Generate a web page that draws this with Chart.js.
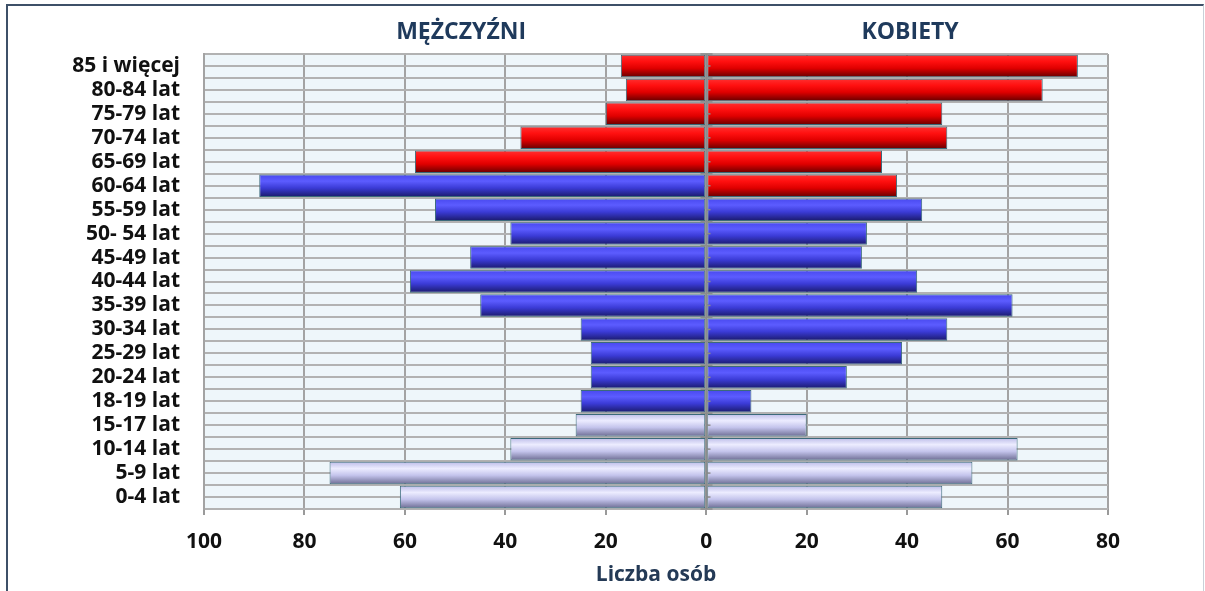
<!DOCTYPE html>
<html>
<head>
<meta charset="utf-8">
<script src="https://cdn.jsdelivr.net/npm/chart.js@4.4.1/dist/chart.umd.min.js"></script>
<style>
  html, body { margin: 0; padding: 0; background: #ffffff; }
  #wrap { position: relative; width: 1205px; height: 591px; overflow: hidden; }
  #frame { position: absolute; left: 6px; top: 4px; width: 1195px; height: 600px;
           border-top: 2px solid #3e5068; border-left: 2px solid #3e5068; border-right: 1px solid #c9d0d8; }
  #c { position: absolute; left: 0; top: 0; }
</style>
</head>
<body>
<div id="wrap">
  <div id="frame"></div>
  <canvas id="c" width="1205" height="591"></canvas>
</div>
<script>
// ---- data ----
const ageGroups = ["85 i więcej", "80-84 lat", "75-79 lat", "70-74 lat", "65-69 lat", "60-64 lat",
  "55-59 lat", "50- 54 lat", "45-49 lat", "40-44 lat", "35-39 lat", "30-34 lat", "25-29 lat",
  "20-24 lat", "18-19 lat", "15-17 lat", "10-14 lat", "5-9 lat", "0-4 lat"];
const men   = [17, 16, 20, 37, 58, 89, 54, 39, 47, 59, 45, 25, 23, 23, 25, 26, 39, 75, 61];
const women = [74, 67, 47, 48, 35, 38, 43, 32, 31, 42, 61, 48, 39, 28, 9, 20, 62, 53, 47];
const xTicks = [-100, -80, -60, -40, -20, 0, 20, 40, 60, 80];
const sideTitles = ["MĘŻCZYŹNI", "KOBIETY"];
const axisTitle = "Liczba osób";
// age group boundaries (indices into ageGroups)
const preWorkingFrom = 15;     // 15-17 lat and younger
const menRetiredUpTo = 4;      // 65-69 lat and older
const womenRetiredUpTo = 5;    // 60-64 lat and older

// ---- styles ----
const FONT = "'Open Sans', sans-serif";
const CAT_PCT = 0.94;
const palettes = {
  red:      [[0, '#ff3030'], [0.3, '#ff1010'], [0.6, '#e00000'], [1, '#640000']],
  blue:     [[0, '#4848ee'], [0.3, '#5c5cff'], [0.6, '#3b3bd6'], [1, '#1a1a6a']],
  lavender: [[0, '#bcbce8'], [0.3, '#ececff'], [0.6, '#c4c4ec'], [1, '#6c6c92']]
};
function groupOf(datasetIndex, i) {
  if (i >= preWorkingFrom) return 'lavender';
  const retiredUpTo = datasetIndex === 0 ? menRetiredUpTo : womenRetiredUpTo;
  return i <= retiredUpTo ? 'red' : 'blue';
}
function barFill(ctx) {
  const pal = palettes[groupOf(ctx.datasetIndex, ctx.dataIndex)];
  const y = ctx.chart.scales && ctx.chart.scales.y;
  if (!y || ctx.type !== 'data' || !isFinite(y.height) || y.height <= 0) return pal[2][1];
  const cy = y.getPixelForValue(ctx.dataIndex);
  const h = (y.height / ageGroups.length) * CAT_PCT;
  const g = ctx.chart.ctx.createLinearGradient(0, cy - h / 2, 0, cy + h / 2);
  pal.forEach(s => g.addColorStop(s[0], s[1]));
  return g;
}
const barStyle = {
  backgroundColor: barFill,
  borderColor: '#3b6a7a',
  borderWidth: 1,
  borderSkipped: false,
  barPercentage: 1,
  categoryPercentage: CAT_PCT
};

const plotBg = {
  id: 'plotBg',
  beforeDraw(chart) {
    const { ctx, chartArea: a } = chart;
    ctx.save();
    ctx.fillStyle = '#eef6fa';
    ctx.fillRect(a.left, a.top, a.right - a.left, a.bottom - a.top);
    ctx.restore();
  }
};
const zeroAxis = {
  id: 'zeroAxis',
  afterDatasetsDraw(chart) {
    const { ctx, chartArea: a, scales } = chart;
    const x0 = Math.round(scales.x.getPixelForValue(0)) + 0.5;
    const step = scales.y.height / ageGroups.length;
    ctx.save();
    ctx.strokeStyle = '#8c8c8c';
    ctx.lineWidth = 2;
    ctx.beginPath();
    ctx.moveTo(x0, a.top); ctx.lineTo(x0, a.bottom);
    ctx.stroke();
    ctx.lineWidth = 1.5;
    for (let i = 0; i <= ageGroups.length; i++) {
      const yb = a.top + i * step;
      ctx.beginPath(); ctx.moveTo(x0 - 6, yb); ctx.lineTo(x0 + 6, yb); ctx.stroke();
      if (i < ageGroups.length) {
        const yc = yb + step / 2;
        ctx.beginPath(); ctx.moveTo(x0, yc); ctx.lineTo(x0 + 4, yc); ctx.stroke();
      }
    }
    ctx.restore();
  }
};
const sideHeads = {
  id: 'sideHeads',
  afterDraw(chart) {
    const { ctx, scales } = chart;
    const xs = scales.x;
    const leftC = (xs.getPixelForValue(xs.min) + xs.getPixelForValue(0)) / 2;
    const rightC = (xs.getPixelForValue(0) + xs.getPixelForValue(xs.max)) / 2;
    ctx.save();
    ctx.fillStyle = '#1f3a5c';
    ctx.font = "bold 23px " + FONT;
    ctx.textAlign = 'center';
    ctx.textBaseline = 'middle';
    ctx.fillText(sideTitles[0], leftC + 6, 32);
    ctx.fillText(sideTitles[1], rightC + 3, 32);
    ctx.restore();
  }
};

new Chart(document.getElementById('c'), {
  type: 'bar',
  data: {
    labels: ageGroups,
    datasets: [
      Object.assign({ label: sideTitles[0], data: men.map(v => -v) }, barStyle),
      Object.assign({ label: sideTitles[1], data: women }, barStyle)
    ]
  },
  options: {
    indexAxis: 'y',
    responsive: false,
    animation: false,
    devicePixelRatio: 1,
    layout: { padding: { top: 54, right: 97, left: 0, bottom: 0 } },
    plugins: { legend: { display: false }, tooltip: { enabled: false }, colors: { enabled: false } },
    scales: {
      x: {
        type: 'linear',
        min: xTicks[0],
        max: xTicks[xTicks.length - 1],
        afterBuildTicks(scale) { scale.ticks = xTicks.map(v => ({ value: v })); },
        afterFit(scale) { scale.height = 82; },
        grid: { color: '#a3a3a3', lineWidth: 2, tickLength: 6, tickColor: '#9a9a9a' },
        border: { display: false },
        ticks: {
          color: '#111111',
          font: { family: FONT, size: 21, weight: 'bold' },
          padding: 14,
          callback: v => String(Math.abs(v))
        },
        title: {
          display: true,
          text: axisTitle,
          color: '#243a56',
          font: { family: FONT, size: 21, weight: 'bold' },
          padding: { top: 4, bottom: 3 }
        }
      },
      y: {
        type: 'category',
        stacked: true,
        offset: true,
        afterFit(scale) { scale.width = 204; },
        grid: { offset: true, color: '#b2b2b2', lineWidth: 2, drawTicks: false },
        border: { color: '#a3a3a3', width: 2 },
        ticks: {
          color: '#111111',
          autoSkip: false,
          font: { family: FONT, size: 21, weight: 'bold' },
          padding: 24
        }
      },
      y2: {
        type: 'category',
        labels: ageGroups,
        position: 'left',
        offset: true,
        afterFit(scale) { scale.width = 0; },
        grid: { offset: false, color: '#b2b2b2', lineWidth: 2, drawTicks: false },
        border: { display: false },
        ticks: { display: false, autoSkip: false }
      }
    }
  },
  plugins: [plotBg, zeroAxis, sideHeads]
});
</script>
</body>
</html>
